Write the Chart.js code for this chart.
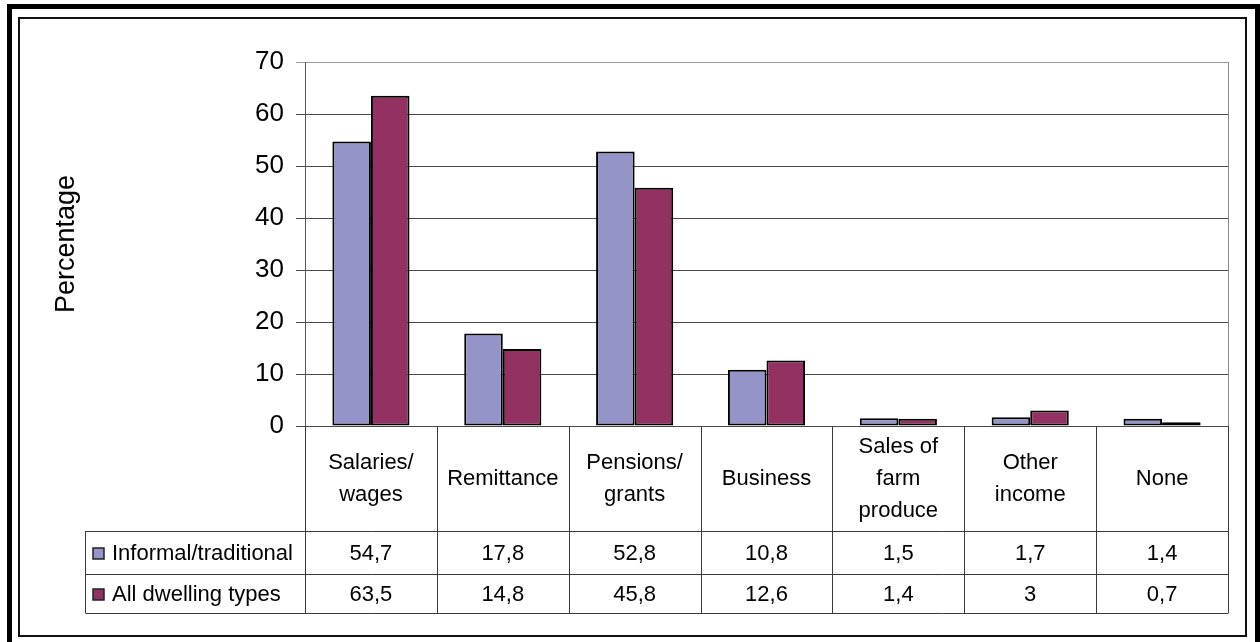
<!DOCTYPE html>
<html lang="en">
<head>
    <meta charset="UTF-8">
    <title>Sources of household income</title>
    <script src="https://cdn.jsdelivr.net/npm/chart.js"></script>
    <style>
        html, body { margin: 0; padding: 0; background: #fff; }
        #wrap { position: relative; width: 1260px; height: 642px; overflow: hidden; }
        #outer { position: absolute; left: 7px; top: 4px; width: 1253px; height: 640px; border: 5px solid #000; border-bottom: none; box-sizing: border-box; }
        #frame { position: absolute; left: 18px; top: 17px; width: 1229px; height: 620px; border: 2px solid #111; box-sizing: border-box; }
        #chart { position: absolute; left: 0; top: 0; }
    </style>
</head>
<body>
<div id="wrap">
    <div id="outer"></div>
    <div id="frame"></div>
    <canvas id="chart" width="1260" height="642"></canvas>
</div>

<script>
    // income sources, one column per category in the table
    const categories = ['Salaries/wages', 'Remittance', 'Pensions/grants', 'Business',
                        'Sales of farm produce', 'Other income', 'None'];
    // how the category names break inside the table header
    const categoryLines = [['Salaries/', 'wages'], ['Remittance'], ['Pensions/', 'grants'], ['Business'],
                           ['Sales of', 'farm', 'produce'], ['Other', 'income'], ['None']];
    const seriesNames = ['Informal/traditional', 'All dwelling types'];
    const informal = [54.7, 17.8, 52.8, 10.8, 1.5, 1.7, 1.4];
    const allDwellings = [63.5, 14.8, 45.8, 12.6, 1.4, 3, 0.7];
    const yTicks = [0, 10, 20, 30, 40, 50, 60, 70];

    const colors = ['#9594c8', '#933162'];
    const font = '"Liberation Sans", Arial, sans-serif';
    Chart.defaults.font.family = font;
    Chart.defaults.color = '#000';

    const fmt = v => String(v).replace('.', ',');

    // data table under the plot, columns follow the x scale
    const tablePlugin = {
        id: 'dataTable',
        afterDraw(chart) {
            const ctx = chart.ctx;
            const area = chart.chartArea;
            const xs = chart.scales.x;
            const n = categories.length;
            const colW = (area.right - area.left) / n;
            const edges = [];
            for (let i = 0; i <= n; i++) edges.push(Math.round(xs.getPixelForValue(i) - colW / 2) + 0.5);

            const headTop = area.bottom;
            const row1 = headTop + 105;
            const row2 = row1 + 43;
            const bottom = row2 + 39;
            const keyCol = 85.5;

            ctx.save();
            // right edge of the plot area
            ctx.strokeStyle = '#8c8c8c';
            ctx.lineWidth = 1;
            ctx.beginPath();
            ctx.moveTo(edges[n], area.top);
            ctx.lineTo(edges[n], area.bottom);
            ctx.stroke();

            ctx.strokeStyle = '#3a3a3a';
            ctx.beginPath();
            edges.forEach(ex => { ctx.moveTo(ex, headTop); ctx.lineTo(ex, bottom); });
            ctx.moveTo(keyCol, row1); ctx.lineTo(keyCol, bottom);
            [row1, row2, bottom].forEach(ry => {
                ctx.moveTo(keyCol, Math.round(ry) + 0.5);
                ctx.lineTo(edges[n], Math.round(ry) + 0.5);
            });
            ctx.stroke();

            ctx.fillStyle = '#000';
            ctx.font = '22px ' + font;
            ctx.textAlign = 'center';
            ctx.textBaseline = 'middle';
            const headMid = (headTop + row1) / 2;
            categoryLines.forEach((lines, i) => {
                const cx = xs.getPixelForValue(i);
                const y0 = headMid - (lines.length - 1) * 16;
                lines.forEach((t, k) => ctx.fillText(t, cx, y0 + k * 32));
            });

            const rows = [[informal, (row1 + row2) / 2], [allDwellings, (row2 + bottom) / 2]];
            rows.forEach(([vals, ry], r) => {
                ctx.textAlign = 'center';
                vals.forEach((v, i) => ctx.fillText(fmt(v), xs.getPixelForValue(i), ry + 1));
                // legend key and series name
                ctx.fillStyle = colors[r];
                ctx.fillRect(93, Math.round(ry) - 5, 11, 11);
                ctx.strokeStyle = '#222';
                ctx.lineWidth = 1.5;
                ctx.strokeRect(93, Math.round(ry) - 5, 11, 11);
                ctx.fillStyle = '#000';
                ctx.textAlign = 'left';
                ctx.fillText(seriesNames[r], 112, ry + 1);
            });
            ctx.restore();
        }
    };

    new Chart(document.getElementById('chart'), {
        type: 'bar',
        data: {
            labels: categories,
            datasets: [
                { label: seriesNames[0], data: informal, backgroundColor: colors[0] },
                { label: seriesNames[1], data: allDwellings, backgroundColor: colors[1] }
            ]
        },
        options: {
            responsive: false,
            devicePixelRatio: 1,
            animation: false,
            layout: { padding: { left: 20, top: 62, right: 32, bottom: 216 } },
            datasets: {
                bar: {
                    categoryPercentage: 0.585,
                    barPercentage: 1,
                    borderColor: '#000',
                    borderWidth: 2,
                    borderSkipped: false
                }
            },
            plugins: {
                legend: { display: false },
                tooltip: { enabled: false }
            },
            scales: {
                x: { display: false },
                y: {
                    min: 0,
                    max: 70,
                    afterBuildTicks: s => { s.ticks = yTicks.map(v => ({ value: v })); },
                    afterFit: s => { s.width = 285; },
                    ticks: { font: { size: 26 }, padding: 12, color: '#000' },
                    grid: {
                        color: c => (c.tick && c.tick.value === 70 ? '#9a9a9a' : '#4a4a4a'),
                        tickLength: 9,
                        lineWidth: 1
                    },
                    border: { color: '#555', width: 1 },
                    title: {
                        display: true,
                        text: 'Percentage',
                        font: { size: 27 },
                        padding: { top: 30, bottom: 0 },
                        color: '#000'
                    }
                }
            }
        },
        plugins: [tablePlugin]
    });
</script>
</body>
</html>
